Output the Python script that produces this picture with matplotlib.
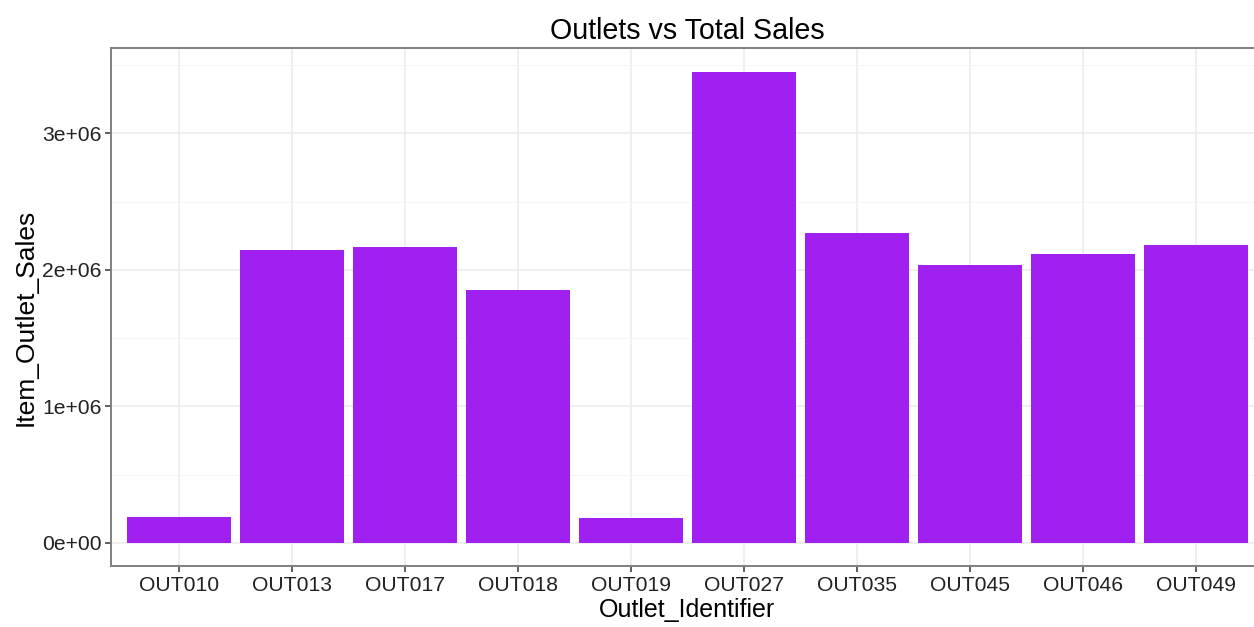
import numpy as np
import matplotlib
matplotlib.use("Agg")
from matplotlib import pyplot as plt
from matplotlib.ticker import FixedLocator

# 各门店的总销售额
outlets = ["OUT010", "OUT013", "OUT017", "OUT018", "OUT019",
           "OUT027", "OUT035", "OUT045", "OUT046", "OUT049"]
sales = [188340, 2142664, 2167465, 1851823, 179694,
         3453926, 2268123, 2036725, 2118395, 2183970]
y_ticks = [0, 1e6, 2e6, 3e6]
y_tick_labels = ["0e+00", "1e+06", "2e+06", "3e+06"]
y_minor = [0.5e6, 1.5e6, 2.5e6, 3.5e6]

plt.rcParams["font.family"] = ["Liberation Sans", "DejaVu Sans"]

fig = plt.figure(figsize=(12.54, 6.27), dpi=100)
# 原图右边框被裁掉了，所以坐标区向右超出画布
ax = fig.add_axes([0.0889, 0.0965, 0.9186, 0.827])

x = np.arange(len(outlets))
ax.bar(x, sales, width=0.92, color="#A020F0", zorder=3)

# ggplot 默认上下各扩展 5%
top = max(sales)
ax.set_ylim(-0.05 * top, 1.05 * top)
ax.set_xlim(-0.6, len(outlets) - 0.4)

ax.set_xticks(x)
ax.set_xticklabels(outlets)
ax.set_yticks(y_ticks)
ax.set_yticklabels(y_tick_labels)
ax.yaxis.set_minor_locator(FixedLocator(y_minor))

ax.grid(True, which="major", color="#EBEBEB", linewidth=1.1, zorder=0)
ax.grid(True, which="minor", axis="y", color="#F5F5F5", linewidth=0.7, zorder=0)
ax.tick_params(which="minor", length=0)
ax.tick_params(which="major", length=4, width=1.1, color="#333333",
               labelsize=15.2, labelcolor="#222222", pad=3.2)

for s in ax.spines.values():
    s.set_color("#808080")
    s.set_linewidth(1.4)

ax.set_xlabel("Outlet_Identifier", fontsize=18, labelpad=2)
ax.set_ylabel("Item_Outlet_Sales", fontsize=19)
ax.yaxis.set_label_coords(-0.064, 0.48)
ax.set_title("Outlets vs Total Sales", fontsize=20.6, pad=6.5)

plt.savefig("out.png", dpi=100)
